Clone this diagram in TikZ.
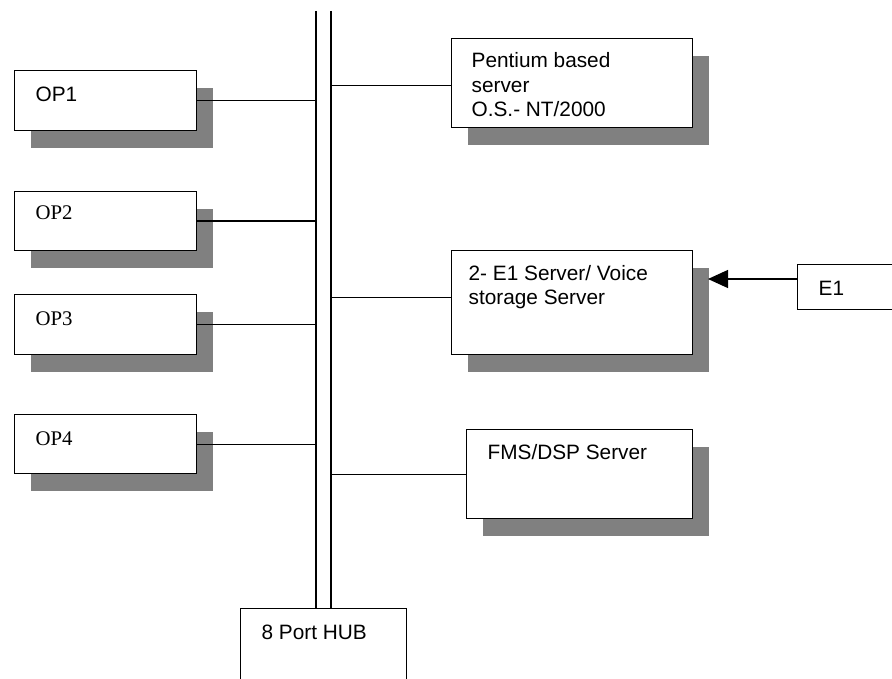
\documentclass[tikz,border=0pt]{standalone}
\usepackage{fontspec}
\setmainfont{Liberation Sans}
\newfontfamily\timesf{Liberation Serif}
\usetikzlibrary{arrows.meta,shadows}
\definecolor{shadowgray}{RGB}{128,128,128}
\begin{document}
\begin{tikzpicture}[x=1pt,y=-1pt,line width=1.3pt,
  box/.style={draw=black,fill=white,inner sep=0pt,anchor=north west},
  sbox/.style={box,drop shadow={shadow xshift=16.5pt,shadow yshift=-17pt,fill=shadowgray,opacity=1}},
  txt/.style={anchor=base west,inner sep=0pt,align=left,font=\fontsize{20.8pt}{24.5pt}\selectfont},
  ttxt/.style={txt,font=\fontsize{20.8pt}{24.5pt}\selectfont\timesf}]
\clip (0,0) rectangle (892,679);
\fill[white] (0,0) rectangle (892,679);
% boxes
\node[sbox,minimum width=182pt,minimum height=60pt] (op1) at (14,70) {};
\node[sbox,minimum width=182pt,minimum height=59pt] (op2) at (14,191) {};
\node[sbox,minimum width=182pt,minimum height=60pt] (op3) at (14,294) {};
\node[sbox,minimum width=182pt,minimum height=59pt] (op4) at (14,414) {};
\node[sbox,minimum width=241pt,minimum height=89pt] (pent) at (451,38) {};
\node[sbox,minimum width=241pt,minimum height=104pt] (e1s) at (451,250) {};
\node[sbox,minimum width=226pt,minimum height=89pt] (fms) at (466,429) {};
\node[box,minimum width=130pt,minimum height=45pt] (e1) at (797,264) {};
\node[box,minimum width=166pt,minimum height=110pt] (hub) at (240,608) {};
% texts (multi-line nodes: base = last line)
\node[txt] (op1t) at (35,101.5) {OP1};
\node[ttxt] (op2t) at (35,220) {OP2};
\node[ttxt] (op3t) at (35,325) {OP3};
\node[ttxt] (op4t) at (35,445) {OP4};
\node[txt] (pentt) at (471,117) {Pentium based\\server\\O.S.- NT/2000};
\node[txt] (e1st) at (468,305) {2- E1 Server/ Voice\\storage Server};
\node[txt] (fmst) at (487,459) {FMS/DSP Server};
\node[txt] (e1t) at (818,295) {E1};
\node[txt] (hubt) at (261,639) {8 Port HUB};
% bus
\coordinate (bl) at (316,11);
\coordinate (br) at (331,11);
\draw (bl) -- (bl |- hub.north);
\draw (br) -- (br |- hub.north);
% connectors
\draw (op1.east) -- (op1.east -| bl);
\draw (op2.east) -- (op2.east -| bl);
\draw (op3.east) -- (op3.east -| bl);
\draw (op4.east) -- (op4.east -| bl);
\draw ([yshift=-2.5pt]pent.west) -- ([yshift=-2.5pt]pent.west -| br);
\draw ([yshift=5.3pt]e1s.west) -- ([yshift=5.3pt]e1s.west -| br);
\draw (fms.west) -- (fms.west -| br);
\coordinate (tip) at (708,279);
\draw[-{Triangle[length=20pt,width=18pt]}] (e1.west |- tip) -- (tip);
\end{tikzpicture}
\end{document}
